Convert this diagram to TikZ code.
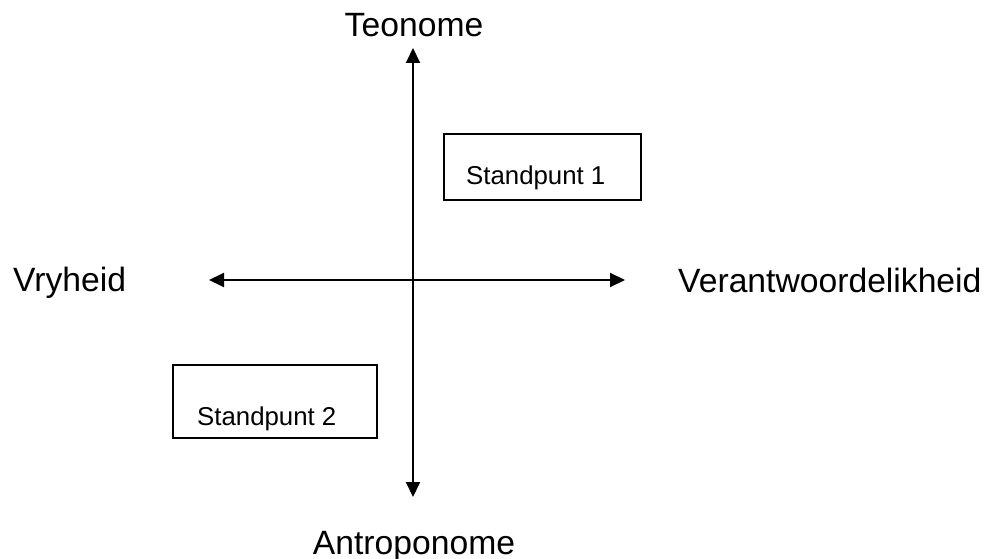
\documentclass[tikz,border=0pt]{standalone}
\usepackage{fontspec}
\setmainfont{Liberation Sans}
\usetikzlibrary{arrows.meta}
\begin{document}
\begin{tikzpicture}[x=1bp,y=-1bp,
  biglabel/.style={inner sep=0pt,font=\fontsize{33.8}{40}\selectfont},
  smalllabel/.style={inner sep=0pt,anchor=base west,font=\fontsize{25.9}{30}\selectfont},
  standbox/.style={draw,line width=1.5bp,inner sep=0pt},
  axis/.style={line width=2bp,{Triangle[length=15bp,width=14bp]}-{Triangle[length=15bp,width=14bp]}}]
\useasboundingbox (0,0) rectangle (992,559);
\coordinate (ntop) at (413,48);
\coordinate (nbot) at (413,497);
\coordinate (nleft) at (209,280);
\coordinate (nright) at (625,280);
\draw[axis] (ntop) -- (nbot);
\draw[axis] (nleft) -- (nright);
\node[biglabel,anchor=base] (teo) at (414,37) {Teonome};
\node[biglabel,anchor=base] (antro) at (414,554) {Antroponome};
\node[biglabel,anchor=base west] (vry) at (13,292) {Vryheid};
\node[biglabel,anchor=base west] (ver) at (678,293) {Verantwoordelikheid};
\node[standbox,minimum width=197bp,minimum height=66bp] (box1) at (542.5,167) {};
\node[standbox,minimum width=204bp,minimum height=73bp] (box2) at (275,401.5) {};
\node[smalllabel] (s1) at (466,185) {Standpunt 1};
\node[smalllabel] (s2) at (197,425) {Standpunt 2};
\end{tikzpicture}
\end{document}
